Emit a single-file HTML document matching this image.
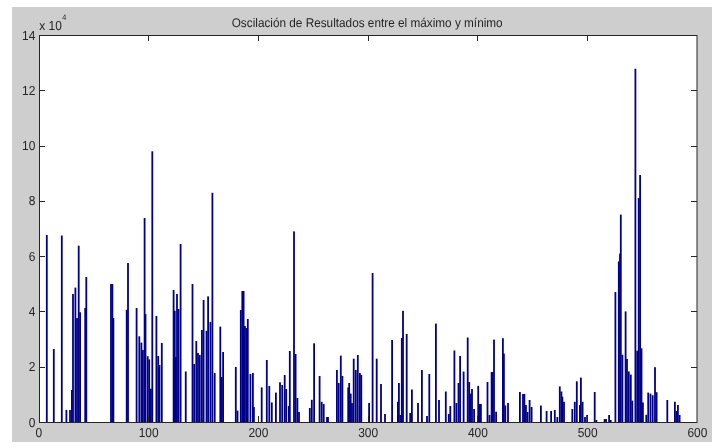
<!DOCTYPE html>
<html><head><meta charset="utf-8"><style>
html,body{margin:0;padding:0;background:#fff;width:722px;height:448px;overflow:hidden}
svg{display:block;will-change:transform}
text{font-family:"Liberation Sans",sans-serif;font-size:13px;fill:#262626;text-rendering:geometricPrecision}
</style></head><body>
<svg width="722" height="448" viewBox="0 0 722 448">
<rect x="12" y="7" width="700" height="435" fill="#cecece"/>
<rect x="39.5" y="35.5" width="657.5" height="387" fill="#ffffff" stroke="none"/>
<g fill="#000088">
<rect x="45.90" y="235.00" width="1.8" height="187.00"/>
<rect x="52.90" y="349.00" width="1.8" height="73.00"/>
<rect x="60.90" y="235.50" width="1.8" height="186.50"/>
<rect x="65.50" y="410.00" width="1.8" height="12.00"/>
<rect x="69.10" y="410.00" width="1.8" height="12.00"/>
<rect x="71.00" y="390.00" width="1.8" height="32.00"/>
<rect x="72.10" y="294.00" width="1.8" height="128.00"/>
<rect x="74.50" y="287.60" width="1.8" height="134.40"/>
<rect x="76.10" y="318.00" width="1.8" height="104.00"/>
<rect x="77.80" y="245.70" width="1.8" height="176.30"/>
<rect x="79.20" y="312.30" width="1.8" height="109.70"/>
<rect x="84.30" y="308.00" width="1.8" height="114.00"/>
<rect x="85.40" y="277.00" width="1.8" height="145.00"/>
<rect x="110.10" y="284.00" width="1.8" height="138.00"/>
<rect x="111.50" y="284.00" width="1.8" height="138.00"/>
<rect x="112.50" y="318.00" width="1.8" height="104.00"/>
<rect x="125.80" y="309.80" width="1.8" height="112.20"/>
<rect x="127.10" y="263.00" width="1.8" height="159.00"/>
<rect x="135.70" y="308.00" width="1.8" height="114.00"/>
<rect x="138.40" y="336.30" width="1.8" height="85.70"/>
<rect x="140.50" y="342.60" width="1.8" height="79.40"/>
<rect x="142.00" y="350.00" width="1.8" height="72.00"/>
<rect x="143.70" y="218.00" width="1.8" height="204.00"/>
<rect x="144.60" y="314.00" width="1.8" height="108.00"/>
<rect x="146.80" y="356.20" width="1.8" height="65.80"/>
<rect x="148.30" y="359.40" width="1.8" height="62.60"/>
<rect x="150.00" y="388.70" width="1.8" height="33.30"/>
<rect x="151.40" y="151.30" width="1.8" height="270.70"/>
<rect x="155.50" y="316.00" width="1.8" height="106.00"/>
<rect x="157.30" y="356.00" width="1.8" height="66.00"/>
<rect x="158.60" y="365.00" width="1.8" height="57.00"/>
<rect x="160.90" y="343.00" width="1.8" height="79.00"/>
<rect x="172.70" y="290.00" width="1.8" height="132.00"/>
<rect x="173.90" y="310.80" width="1.8" height="111.20"/>
<rect x="175.00" y="357.00" width="1.8" height="65.00"/>
<rect x="176.10" y="294.00" width="1.8" height="128.00"/>
<rect x="177.60" y="309.00" width="1.8" height="113.00"/>
<rect x="179.70" y="244.00" width="1.8" height="178.00"/>
<rect x="184.85" y="371.50" width="1.8" height="50.50"/>
<rect x="191.60" y="284.00" width="1.8" height="138.00"/>
<rect x="193.30" y="364.00" width="1.8" height="58.00"/>
<rect x="195.40" y="341.00" width="1.8" height="81.00"/>
<rect x="197.10" y="353.00" width="1.8" height="69.00"/>
<rect x="198.90" y="355.00" width="1.8" height="67.00"/>
<rect x="201.00" y="330.00" width="1.8" height="92.00"/>
<rect x="202.70" y="300.00" width="1.8" height="122.00"/>
<rect x="205.60" y="330.80" width="1.8" height="91.20"/>
<rect x="207.20" y="296.40" width="1.8" height="125.60"/>
<rect x="209.50" y="322.00" width="1.8" height="100.00"/>
<rect x="211.50" y="192.80" width="1.8" height="229.20"/>
<rect x="213.80" y="373.00" width="1.8" height="49.00"/>
<rect x="219.40" y="326.60" width="1.8" height="95.40"/>
<rect x="220.90" y="377.00" width="1.8" height="45.00"/>
<rect x="222.20" y="352.00" width="1.8" height="70.00"/>
<rect x="234.90" y="367.00" width="1.8" height="55.00"/>
<rect x="236.60" y="410.60" width="1.8" height="11.40"/>
<rect x="239.90" y="310.00" width="1.8" height="112.00"/>
<rect x="241.40" y="291.00" width="1.8" height="131.00"/>
<rect x="242.70" y="291.00" width="1.8" height="131.00"/>
<rect x="244.00" y="326.00" width="1.8" height="96.00"/>
<rect x="245.50" y="328.00" width="1.8" height="94.00"/>
<rect x="246.90" y="319.00" width="1.8" height="103.00"/>
<rect x="249.50" y="374.00" width="1.8" height="48.00"/>
<rect x="252.00" y="373.00" width="1.8" height="49.00"/>
<rect x="253.00" y="407.00" width="1.8" height="15.00"/>
<rect x="260.80" y="387.40" width="1.8" height="34.60"/>
<rect x="265.90" y="360.00" width="1.8" height="62.00"/>
<rect x="268.40" y="386.00" width="1.8" height="36.00"/>
<rect x="270.90" y="402.40" width="1.8" height="19.60"/>
<rect x="275.00" y="392.60" width="1.8" height="29.40"/>
<rect x="279.10" y="382.30" width="1.8" height="39.70"/>
<rect x="281.30" y="385.00" width="1.8" height="37.00"/>
<rect x="283.80" y="375.00" width="1.8" height="47.00"/>
<rect x="285.30" y="389.00" width="1.8" height="33.00"/>
<rect x="287.90" y="406.00" width="1.8" height="16.00"/>
<rect x="288.90" y="351.00" width="1.8" height="71.00"/>
<rect x="293.10" y="231.40" width="1.8" height="190.60"/>
<rect x="294.70" y="354.00" width="1.8" height="68.00"/>
<rect x="296.50" y="398.00" width="1.8" height="24.00"/>
<rect x="298.10" y="412.00" width="1.8" height="10.00"/>
<rect x="308.90" y="408.00" width="1.8" height="14.00"/>
<rect x="310.90" y="399.80" width="1.8" height="22.20"/>
<rect x="313.20" y="343.30" width="1.8" height="78.70"/>
<rect x="318.70" y="376.00" width="1.8" height="46.00"/>
<rect x="320.80" y="401.80" width="1.8" height="20.20"/>
<rect x="322.80" y="404.00" width="1.8" height="18.00"/>
<rect x="326.10" y="417.00" width="1.8" height="5.00"/>
<rect x="327.10" y="417.00" width="1.8" height="5.00"/>
<rect x="336.00" y="370.00" width="1.8" height="52.00"/>
<rect x="337.80" y="383.00" width="1.8" height="39.00"/>
<rect x="339.90" y="355.60" width="1.8" height="66.40"/>
<rect x="341.50" y="376.00" width="1.8" height="46.00"/>
<rect x="347.30" y="387.40" width="1.8" height="34.60"/>
<rect x="348.30" y="383.00" width="1.8" height="39.00"/>
<rect x="349.80" y="393.60" width="1.8" height="28.40"/>
<rect x="351.10" y="403.00" width="1.8" height="19.00"/>
<rect x="352.80" y="358.70" width="1.8" height="63.30"/>
<rect x="354.90" y="370.00" width="1.8" height="52.00"/>
<rect x="356.90" y="355.00" width="1.8" height="67.00"/>
<rect x="359.00" y="373.00" width="1.8" height="49.00"/>
<rect x="360.40" y="375.00" width="1.8" height="47.00"/>
<rect x="368.20" y="403.00" width="1.8" height="19.00"/>
<rect x="371.70" y="273.00" width="1.8" height="149.00"/>
<rect x="375.80" y="358.70" width="1.8" height="63.30"/>
<rect x="380.10" y="384.00" width="1.8" height="38.00"/>
<rect x="384.10" y="414.00" width="1.8" height="8.00"/>
<rect x="391.20" y="340.00" width="1.8" height="82.00"/>
<rect x="397.00" y="401.80" width="1.8" height="20.20"/>
<rect x="398.00" y="383.00" width="1.8" height="39.00"/>
<rect x="399.50" y="415.00" width="1.8" height="7.00"/>
<rect x="400.90" y="338.00" width="1.8" height="84.00"/>
<rect x="402.10" y="310.80" width="1.8" height="111.20"/>
<rect x="405.80" y="334.00" width="1.8" height="88.00"/>
<rect x="409.30" y="413.00" width="1.8" height="9.00"/>
<rect x="411.00" y="389.50" width="1.8" height="32.50"/>
<rect x="417.10" y="403.00" width="1.8" height="19.00"/>
<rect x="421.00" y="370.00" width="1.8" height="52.00"/>
<rect x="426.10" y="416.00" width="1.8" height="6.00"/>
<rect x="428.40" y="374.00" width="1.8" height="48.00"/>
<rect x="435.00" y="323.60" width="1.8" height="98.40"/>
<rect x="438.10" y="400.00" width="1.8" height="22.00"/>
<rect x="444.90" y="391.50" width="1.8" height="30.50"/>
<rect x="447.90" y="414.00" width="1.8" height="8.00"/>
<rect x="449.40" y="406.00" width="1.8" height="16.00"/>
<rect x="453.50" y="350.50" width="1.8" height="71.50"/>
<rect x="455.50" y="403.00" width="1.8" height="19.00"/>
<rect x="457.60" y="383.00" width="1.8" height="39.00"/>
<rect x="459.20" y="356.00" width="1.8" height="66.00"/>
<rect x="462.70" y="371.60" width="1.8" height="50.40"/>
<rect x="466.80" y="337.50" width="1.8" height="84.50"/>
<rect x="468.30" y="382.00" width="1.8" height="40.00"/>
<rect x="469.70" y="393.60" width="1.8" height="28.40"/>
<rect x="471.10" y="389.00" width="1.8" height="33.00"/>
<rect x="473.20" y="409.00" width="1.8" height="13.00"/>
<rect x="477.30" y="385.80" width="1.8" height="36.20"/>
<rect x="479.00" y="404.00" width="1.8" height="18.00"/>
<rect x="480.00" y="404.00" width="1.8" height="18.00"/>
<rect x="486.60" y="382.00" width="1.8" height="40.00"/>
<rect x="488.60" y="415.00" width="1.8" height="7.00"/>
<rect x="490.70" y="372.00" width="1.8" height="50.00"/>
<rect x="491.70" y="372.00" width="1.8" height="50.00"/>
<rect x="493.10" y="339.60" width="1.8" height="82.40"/>
<rect x="495.20" y="411.70" width="1.8" height="10.30"/>
<rect x="502.00" y="338.20" width="1.8" height="83.80"/>
<rect x="503.00" y="353.60" width="1.8" height="68.40"/>
<rect x="504.40" y="405.50" width="1.8" height="16.50"/>
<rect x="507.10" y="403.00" width="1.8" height="19.00"/>
<rect x="519.00" y="392.00" width="1.8" height="30.00"/>
<rect x="522.10" y="394.00" width="1.8" height="28.00"/>
<rect x="523.50" y="394.00" width="1.8" height="28.00"/>
<rect x="525.00" y="405.00" width="1.8" height="17.00"/>
<rect x="526.60" y="412.00" width="1.8" height="10.00"/>
<rect x="528.70" y="400.00" width="1.8" height="22.00"/>
<rect x="530.70" y="407.00" width="1.8" height="15.00"/>
<rect x="540.00" y="405.50" width="1.8" height="16.50"/>
<rect x="545.70" y="411.00" width="1.8" height="11.00"/>
<rect x="550.20" y="411.00" width="1.8" height="11.00"/>
<rect x="553.90" y="410.00" width="1.8" height="12.00"/>
<rect x="556.40" y="417.00" width="1.8" height="5.00"/>
<rect x="558.90" y="386.40" width="1.8" height="35.60"/>
<rect x="560.50" y="391.50" width="1.8" height="30.50"/>
<rect x="561.50" y="396.70" width="1.8" height="25.30"/>
<rect x="563.10" y="401.80" width="1.8" height="20.20"/>
<rect x="571.40" y="409.00" width="1.8" height="13.00"/>
<rect x="573.90" y="401.80" width="1.8" height="20.20"/>
<rect x="575.90" y="381.30" width="1.8" height="40.70"/>
<rect x="579.00" y="405.00" width="1.8" height="17.00"/>
<rect x="580.00" y="377.60" width="1.8" height="44.40"/>
<rect x="581.70" y="401.80" width="1.8" height="20.20"/>
<rect x="584.10" y="417.00" width="1.8" height="5.00"/>
<rect x="586.20" y="415.00" width="1.8" height="7.00"/>
<rect x="593.80" y="392.00" width="1.8" height="30.00"/>
<rect x="595.50" y="420.00" width="1.8" height="2.00"/>
<rect x="603.70" y="419.00" width="1.8" height="3.00"/>
<rect x="605.10" y="419.00" width="1.8" height="3.00"/>
<rect x="608.20" y="415.00" width="1.8" height="7.00"/>
<rect x="609.80" y="420.00" width="1.8" height="2.00"/>
<rect x="614.50" y="292.00" width="1.8" height="130.00"/>
<rect x="617.90" y="261.40" width="1.8" height="160.60"/>
<rect x="619.10" y="253.60" width="1.8" height="168.40"/>
<rect x="619.90" y="214.60" width="1.8" height="207.40"/>
<rect x="621.50" y="354.70" width="1.8" height="67.30"/>
<rect x="624.70" y="311.40" width="1.8" height="110.60"/>
<rect x="626.10" y="359.00" width="1.8" height="63.00"/>
<rect x="627.90" y="371.50" width="1.8" height="50.50"/>
<rect x="629.90" y="374.60" width="1.8" height="47.40"/>
<rect x="631.40" y="400.60" width="1.8" height="21.40"/>
<rect x="634.50" y="68.75" width="1.8" height="353.25"/>
<rect x="636.30" y="350.70" width="1.8" height="71.30"/>
<rect x="637.80" y="198.00" width="1.8" height="224.00"/>
<rect x="639.20" y="175.00" width="1.8" height="247.00"/>
<rect x="640.60" y="348.30" width="1.8" height="73.70"/>
<rect x="642.00" y="402.50" width="1.8" height="19.50"/>
<rect x="645.40" y="414.80" width="1.8" height="7.20"/>
<rect x="647.30" y="392.60" width="1.8" height="29.40"/>
<rect x="649.60" y="393.60" width="1.8" height="28.40"/>
<rect x="651.80" y="395.20" width="1.8" height="26.80"/>
<rect x="654.10" y="367.20" width="1.8" height="54.80"/>
<rect x="655.70" y="392.20" width="1.8" height="29.80"/>
<rect x="666.40" y="400.00" width="1.8" height="22.00"/>
<rect x="674.00" y="401.80" width="1.8" height="20.20"/>
<rect x="675.60" y="411.00" width="1.8" height="11.00"/>
<rect x="677.00" y="405.00" width="1.8" height="17.00"/>
<rect x="678.70" y="415.00" width="1.8" height="7.00"/>
</g>
<rect x="39.5" y="35.5" width="657.5" height="387" fill="none" stroke="#262626" stroke-width="1"/>
<g stroke="#262626" stroke-width="1">
<line x1="148.5" y1="422" x2="148.5" y2="416"/><line x1="148.5" y1="35" x2="148.5" y2="41"/><line x1="258.5" y1="422" x2="258.5" y2="416"/><line x1="258.5" y1="35" x2="258.5" y2="41"/><line x1="368.5" y1="422" x2="368.5" y2="416"/><line x1="368.5" y1="35" x2="368.5" y2="41"/><line x1="477.5" y1="422" x2="477.5" y2="416"/><line x1="477.5" y1="35" x2="477.5" y2="41"/><line x1="587.5" y1="422" x2="587.5" y2="416"/><line x1="587.5" y1="35" x2="587.5" y2="41"/><line x1="39" y1="367.5" x2="45" y2="367.5"/><line x1="697" y1="367.5" x2="691" y2="367.5"/><line x1="39" y1="311.5" x2="45" y2="311.5"/><line x1="697" y1="311.5" x2="691" y2="311.5"/><line x1="39" y1="256.5" x2="45" y2="256.5"/><line x1="697" y1="256.5" x2="691" y2="256.5"/><line x1="39" y1="201.5" x2="45" y2="201.5"/><line x1="697" y1="201.5" x2="691" y2="201.5"/><line x1="39" y1="146.5" x2="45" y2="146.5"/><line x1="697" y1="146.5" x2="691" y2="146.5"/><line x1="39" y1="90.5" x2="45" y2="90.5"/><line x1="697" y1="90.5" x2="691" y2="90.5"/>
</g>
<text transform="matrix(0.935,0,0,1,23.868,0)" x="367.2" y="26.6" text-anchor="middle" style="font-size:12.6px">Oscilación de Resultados entre el máximo y mínimo</text>
<text transform="matrix(0.92,0,0,1,3.136,0)" x="39.20" y="29.80" text-anchor="start" >x 10</text>
<text transform="matrix(0.92,0,0,1,4.976,0)" x="62.20" y="19.90" text-anchor="start" style="font-size:8px">4</text>
<text transform="matrix(0.92,0,0,1,3.112,0)" x="38.90" y="437.00" text-anchor="middle" >0</text><text transform="matrix(0.92,0,0,1,11.892,0)" x="148.65" y="437.00" text-anchor="middle" >100</text><text transform="matrix(0.92,0,0,1,20.672,0)" x="258.40" y="437.00" text-anchor="middle" >200</text><text transform="matrix(0.92,0,0,1,29.452,0)" x="368.15" y="437.00" text-anchor="middle" >300</text><text transform="matrix(0.92,0,0,1,38.232,0)" x="477.90" y="437.00" text-anchor="middle" >400</text><text transform="matrix(0.92,0,0,1,47.012,0)" x="587.65" y="437.00" text-anchor="middle" >500</text><text transform="matrix(0.92,0,0,1,55.792,0)" x="697.40" y="437.00" text-anchor="middle" >600</text>
<text transform="matrix(0.92,0,0,1,2.824,0)" x="35.30" y="426.60" text-anchor="end" >0</text><text transform="matrix(0.92,0,0,1,2.824,0)" x="35.30" y="371.31" text-anchor="end" >2</text><text transform="matrix(0.92,0,0,1,2.824,0)" x="35.30" y="316.03" text-anchor="end" >4</text><text transform="matrix(0.92,0,0,1,2.824,0)" x="35.30" y="260.74" text-anchor="end" >6</text><text transform="matrix(0.92,0,0,1,2.824,0)" x="35.30" y="205.46" text-anchor="end" >8</text><text transform="matrix(0.92,0,0,1,2.824,0)" x="35.30" y="150.17" text-anchor="end" >10</text><text transform="matrix(0.92,0,0,1,2.824,0)" x="35.30" y="94.89" text-anchor="end" >12</text><text transform="matrix(0.92,0,0,1,2.824,0)" x="35.30" y="39.60" text-anchor="end" >14</text>
</svg>
</body></html>
